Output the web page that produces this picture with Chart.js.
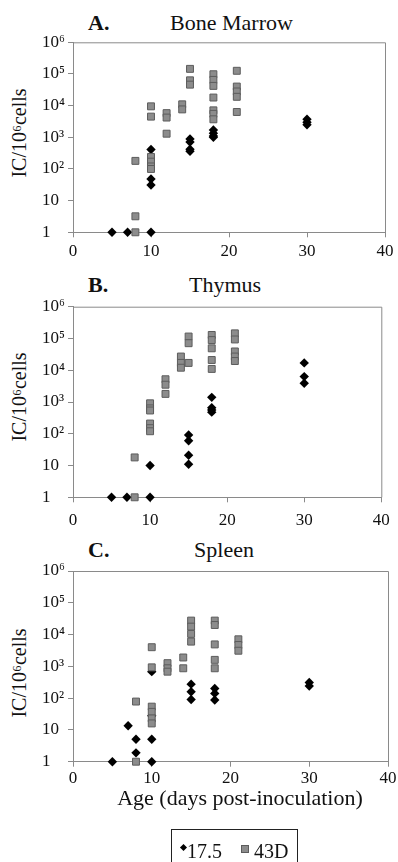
<!DOCTYPE html>
<html>
<head>
<meta charset="utf-8">
<script src="https://cdn.jsdelivr.net/npm/chart.js@4.4.0/dist/chart.umd.min.js"></script>
<style>
  body { margin: 0; background: #fff; width: 398px; height: 862px; position: relative; overflow: hidden;
         font-family: 'Liberation Serif', 'Times New Roman', serif; color: #111; }
  canvas { position: absolute; left: 0; }
  .t { position: absolute; font-size: 22px; line-height: 24px; white-space: nowrap; }
  .c { transform: translateX(-50%); }
  .yt { position: absolute; font-size: 20px; line-height: 22px; white-space: nowrap;
        transform: translate(-50%, -50%) rotate(-90deg); }
  .lg { position: absolute; font-size: 20px; line-height: 22px; white-space: nowrap; }
</style>
</head>
<body>
<div class="t" style="left:88px;top:10.6px;font-weight:bold">A.</div>
<div class="t c" style="left:231.5px;top:10.6px">Bone Marrow</div>
<div class="t" style="left:88px;top:272.6px;font-weight:bold">B.</div>
<div class="t c" style="left:225px;top:272.6px">Thymus</div>
<div class="t" style="left:88px;top:537.6px;font-weight:bold">C.</div>
<div class="t c" style="left:224px;top:537.6px">Spleen</div>

<div class="yt" style="left:19px;top:133px">IC/10⁶cells</div>
<div class="yt" style="left:19px;top:397px">IC/10⁶cells</div>
<div class="yt" style="left:19px;top:673px">IC/10⁶cells</div>

<canvas id="marrow" width="398" height="262" style="top:0px"></canvas>
<canvas id="thymus" width="398" height="262" style="top:270px"></canvas>
<canvas id="spleen" width="398" height="250" style="top:540px"></canvas>

<div class="t c" style="left:240px;top:785.6px">Age (days post-inoculation)</div>

<div style="position:absolute;left:171px;top:829px;width:125px;height:45px;border:1px solid #222;"></div>
<div style="position:absolute;left:180.5px;top:844.5px;width:5px;height:5px;background:#000;transform:rotate(45deg)"></div>
<div class="lg" style="left:187px;top:840px">17.5</div>
<div style="position:absolute;left:241px;top:845px;width:5.5px;height:5.5px;background:#8c8c8c;border:1px solid #5c5c5c"></div>
<div class="lg" style="left:254px;top:840px">43D</div>

<script>
// [day, IC per 10^6 cells]
const marrow175 = [[5, 1], [7, 1], [10, 1], [10, 410], [10, 48], [10, 31],
  [15, 890], [15, 710], [15, 420], [15, 360], [18, 1700], [18, 1350], [18, 1100], [18, 1000],
  [30, 3700], [30, 3000], [30, 2500]];
const marrow43D = [[8, 1], [8, 3.2], [8, 180], [10, 9500], [10, 4500], [10, 240], [10, 170], [10, 120], [10, 100],
  [12, 5800], [12, 4200], [12, 1300], [14, 11000], [14, 7600], [15, 145000], [15, 63000], [15, 46000],
  [18, 98000], [18, 65000], [18, 42000], [18, 18000], [18, 7100], [18, 5500], [18, 3700],
  [21, 126000], [21, 40000], [21, 28000], [21, 19000], [21, 6300]];

const thymus175 = [[5, 1], [7, 1], [10, 1], [10, 10], [15, 91], [15, 60], [15, 21], [15, 11],
  [18, 1400], [18, 660], [18, 560], [18, 480], [30, 17000], [30, 6300], [30, 3900]];
const thymus43D = [[8, 1], [8, 18], [10, 910], [10, 630], [10, 540], [10, 210], [10, 150], [10, 120],
  [12, 5200], [12, 3500], [12, 1800], [14, 27000], [14, 17000], [14, 12000], [15, 115000], [15, 71000], [15, 17000],
  [18, 129000], [18, 89000], [18, 49000], [18, 21000], [18, 11000],
  [21, 145000], [21, 93000], [21, 39000], [21, 27000], [21, 19500]];

const spleen175 = [[5, 1], [7, 13.5], [8, 5.1], [8, 1.9], [10, 1], [10, 5.1], [10, 28], [10, 680],
  [15, 275], [15, 158], [15, 91], [18, 200], [18, 141], [18, 87], [30, 310], [30, 240]];
const spleen43D = [[8, 1], [8, 78], [10, 4000], [10, 930], [10, 54], [10, 37], [10, 23], [10, 16],
  [12, 1260], [12, 870], [12, 680], [14, 1900], [14, 870], [15, 27500], [15, 17800], [15, 10500], [15, 6000],
  [18, 27500], [18, 20000], [18, 4900], [18, 1600], [18, 870], [21, 7100], [21, 4700], [21, 3100]];

const xTicks = [0, 10, 20, 30, 40];
const yTicks = [1, 10, 100, 1000, 10000, 100000, 1000000];
const yTickLabels = ['1', '10', '10²', '10³', '10⁴', '10⁵', '10⁶'];

const axisColor = '#8a8a8a';
const tickFont = { family: "'Liberation Serif', 'Times New Roman', serif", size: 17 };

// box round the plot area (top and right sides)
const frame = {
  id: 'frame',
  afterDraw(chart) {
    const { ctx, chartArea: a } = chart;
    ctx.save();
    ctx.strokeStyle = axisColor;
    ctx.lineWidth = 1;
    ctx.beginPath();
    ctx.moveTo(a.left, a.top + 0.5);
    ctx.lineTo(a.right + 0.5, a.top + 0.5);
    ctx.lineTo(a.right + 0.5, a.bottom);
    ctx.stroke();
    ctx.restore();
  }
};

const toXY = arr => arr.map(p => ({ x: p[0], y: p[1] }));

function makePanel(id, d175, d43, top, height, areaTop, areaBottom, xPad) {
  const canvas = document.getElementById(id);
  return new Chart(canvas, {
    type: 'scatter',
    data: {
      datasets: [
        {
          label: '43D',
          data: toXY(d43),
          pointStyle: 'rect',
          pointRadius: 4.9,
          backgroundColor: '#8c8c8c',
          borderColor: '#5c5c5c',
          borderWidth: 1,
          clip: false
        },
        {
          label: '17.5',
          data: toXY(d175),
          pointStyle: 'rectRot',
          pointRadius: 4.7,
          backgroundColor: '#000',
          borderColor: '#000',
          borderWidth: 0,
          clip: false
        }
      ]
    },
    options: {
      responsive: false,
      animation: false,
      events: [],
      layout: { padding: { top: areaTop - top, left: 42, right: 9.5, bottom: 0 } },
      plugins: { legend: { display: false }, tooltip: { enabled: false } },
      scales: {
        x: {
          type: 'linear', min: 0, max: 40,
          afterBuildTicks: s => { s.ticks = xTicks.map(v => ({ value: v })); },
          afterFit: s => { s.height = top + height - areaBottom; },
          grid: { drawOnChartArea: false, tickLength: 5, color: axisColor },
          border: { color: axisColor },
          ticks: { padding: xPad, font: tickFont, color: '#111', maxRotation: 0 }
        },
        y: {
          type: 'logarithmic', min: 1, max: 1000000,
          afterBuildTicks: s => { s.ticks = yTicks.map(v => ({ value: v })); },
          afterFit: s => { s.width = 31; },
          grid: { drawOnChartArea: false, tickLength: 5, color: axisColor },
          border: { color: axisColor },
          ticks: {
            crossAlign: 'far', font: tickFont, color: '#111',
            callback: v => yTickLabels[yTicks.indexOf(v)]
          }
        }
      }
    },
    plugins: [frame]
  });
}

makePanel('marrow', marrow175, marrow43D, 0, 262, 42.3, 232.3, 4.5);
makePanel('thymus', thymus175, thymus43D, 270, 262, 306.7, 497.3, 8.2);
makePanel('spleen', spleen175, spleen43D, 540, 250, 571, 761.7, 1.5);
</script>
</body>
</html>
